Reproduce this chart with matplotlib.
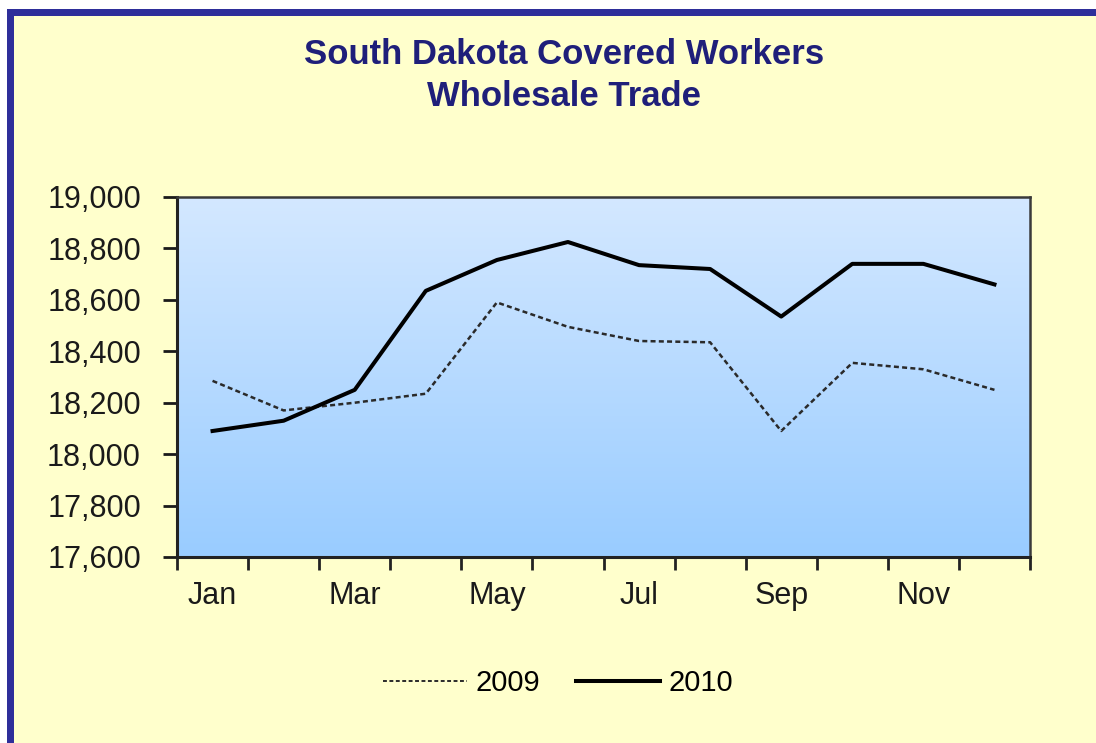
import numpy as np
import matplotlib.pyplot as plt
from matplotlib.patches import Rectangle

months = ['Jan', 'Feb', 'Mar', 'Apr', 'May', 'Jun', 'Jul', 'Aug', 'Sep', 'Oct', 'Nov', 'Dec']
workers_2009 = [18285, 18170, 18200, 18235, 18590, 18495, 18440, 18435, 18090, 18355, 18330, 18250]
workers_2010 = [18090, 18130, 18250, 18635, 18755, 18825, 18735, 18720, 18535, 18740, 18740, 18660]
yticks = [17600, 17800, 18000, 18200, 18400, 18600, 18800, 19000]

plt.rcParams['font.family'] = ['Liberation Sans', 'DejaVu Sans']

W, H = 1096, 743
fig = plt.figure(figsize=(W / 100, H / 100), dpi=100, facecolor='white')

# frame: blue border on top/left, pale yellow panel
fig.patches.append(Rectangle((7 / W, 0), 1, 1 - 9 / H, transform=fig.transFigure,
                             facecolor='#2E2E9A', edgecolor='none', zorder=-2))
fig.patches.append(Rectangle((14 / W, 0), 1, 1 - 16 / H, transform=fig.transFigure,
                             facecolor='#FFFFCC', edgecolor='none', zorder=-1))

ax = fig.add_axes([177 / W, 1 - 557 / H, (1030 - 177) / W, (557 - 197) / H])

# vertical gradient in the plot area
grad = np.linspace(0, 1, 256).reshape(-1, 1)
top = np.array([0.83, 0.91, 1.0])
bot = np.array([0.60, 0.80, 1.0])
img = top[None, None, :] * (1 - grad[:, :, None]) + bot[None, None, :] * grad[:, :, None]
ax.imshow(img, extent=[0, 1, 0, 1], transform=ax.transAxes, aspect='auto', zorder=0)

x = np.arange(len(months))
ax.plot(x, workers_2009, color='#2a2a2a', lw=1.8, ls=(0, (2.0, 1.3)), label='2009', zorder=3)
ax.plot(x, workers_2010, color='black', lw=2.9, label='2010', zorder=4)

ax.set_xlim(-0.5, 11.5)
ax.set_ylim(17600, 19000)
ax.set_yticks(yticks)
ax.set_yticklabels([f'{v:,}' for v in yticks])
ax.set_xticks(x[::2])
ax.set_xticklabels(months[::2])
ax.set_xticks(np.arange(-0.5, 12, 1), minor=True)
ax.tick_params(axis='x', which='major', length=0, pad=17, labelsize=22, colors='#1a1a1a')
ax.tick_params(axis='x', which='minor', length=9, width=2, direction='out', color='#222222')
ax.tick_params(axis='y', length=10, width=2, direction='out', pad=16, labelsize=22,
               colors='#1a1a1a')

for side in ['left', 'bottom']:
    ax.spines[side].set_linewidth(2.2)
    ax.spines[side].set_color('#222222')
for side in ['top', 'right']:
    ax.spines[side].set_linewidth(1.8)
    ax.spines[side].set_color('#3a3a3a')

fig.text(0.515, 1 - 55 / H, 'South Dakota Covered Workers', ha='center', va='center',
         fontsize=25, fontweight='bold', color='#1F1F7A')
fig.text(0.515, 1 - 97 / H, 'Wholesale Trade', ha='center', va='center',
         fontsize=25, fontweight='bold', color='#1F1F7A')

leg = fig.legend(loc='center', bbox_to_anchor=(558 / W, 1 - 683 / H), ncol=2, frameon=False,
                 fontsize=21, handlelength=2.9, handletextpad=0.3, columnspacing=1.2)
leg.get_lines()[0].set_linewidth(1.4)

fig.savefig('out.png', dpi=100, facecolor=fig.get_facecolor())
